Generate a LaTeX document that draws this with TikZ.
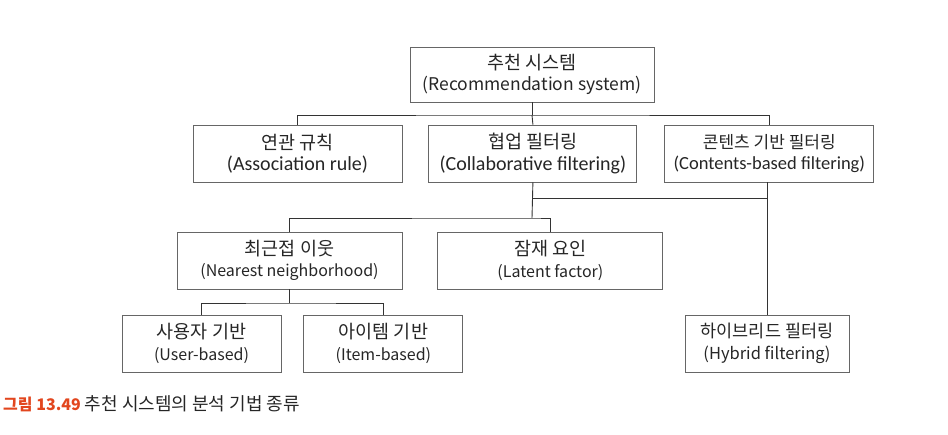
\documentclass[tikz,border=0pt]{standalone}
\usepackage{fontspec}
\setmainfont{Noto Sans CJK KR}
\newfontfamily\narrowfont{Carlito}
\usepackage{xcolor}
\usetikzlibrary{positioning,calc}

\definecolor{capred}{HTML}{E2461E}
\definecolor{inkgray}{HTML}{262626}
\newcommand{\enline}[1]{{\fontsize{16}{20}\selectfont #1}}
\newcommand{\narrowline}[1]{{\narrowfont\fontsize{20}{20}\selectfont #1}}

\begin{document}
\begin{tikzpicture}[
  x=1pt, y=1pt,
  font=\fontsize{18.5}{21.5}\selectfont,
  catbox/.style={
    draw=black!60,
    fill=white,
    line width=0.9pt,
    minimum width=#1,
    minimum height=57pt,
    align=center,
    inner sep=0pt,
    text=inkgray
  },
  catbox/.default=209pt,
  link/.style={draw=black!80, line width=0.9pt},
  caption/.style={anchor=west, inner sep=0pt, font=\fontsize{18}{20}\selectfont, text=inkgray}
]
\useasboundingbox (0,0) rectangle (948,-435);

% ===== Root =====
\node[catbox=244pt, minimum height=55pt] (root) at (532,-74.5)
  {추천 시스템\\{\fontsize{17.5}{20}\selectfont (Recommendation system)}};

% ===== Second row =====
\node[catbox=209pt] (assoc) at (297.5,-153.5)
  {연관 규칙\\\narrowline{(Association rule)}};
\node[catbox=208pt, right=26pt of assoc] (collab)
  {협업 필터링\\\narrowline{(Collaborative filtering)}};
\node[catbox=209pt, right=27pt of collab] (contents)
  {{\fontsize{17}{20}\selectfont 콘텐츠 기반 필터링}\\{\narrowfont\fontsize{18.5}{20}\selectfont (Contents-based filtering)}};

% ===== Third row =====
\node[catbox=225pt] (nearest) at (289.5,-260.5)
  {최근접 이웃\\\enline{(Nearest neighborhood)}};
\node[catbox=225pt, right=35pt of nearest] (latent)
  {잠재 요인\\\enline{(Latent factor)}};

% ===== Fourth row =====
\node[catbox=159pt] (user) at (201.5,-343.5)
  {사용자 기반\\\enline{(User-based)}};
\node[catbox=159pt, right=22pt of user] (item)
  {아이템 기반\\\enline{(Item-based)}};
\node[catbox=164pt] (hybrid) at (767,-343.5)
  {{\fontsize{17.5}{20}\selectfont 하이브리드 필터링}\\{\fontsize{16.5}{20}\selectfont (Hybrid filtering)}};

% ===== Bus points =====
\coordinate (bus1) at (532,-115);
\coordinate (bus2) at (532,-218);
\coordinate (bus3) at (532,-198);
\coordinate (bus4) at (289.5,-303);

% ===== Connectors =====
\draw[link] (root.south) -- (bus1);
\draw[link] (assoc.north) |- (bus1) -| (contents.north);
\draw[link] (collab.north) -- (bus1);

\draw[link] (collab.south) -- (bus2);
\draw[link] (nearest.north) |- (bus2) -| (latent.north);
\draw[link] (bus3) -- (bus3 -| hybrid.north);
\draw[link] (contents.south -| hybrid.north) -- (hybrid.north);

\draw[link] (nearest.south) -- (bus4);
\draw[link] (user.north) |- (bus4) -| (item.north);

% ===== Caption =====
\node[caption] (cap) at (3,-404)
  {\textcolor{capred}{\fontsize{16}{20}\selectfont\bfseries 그림 13.49} 추천 시스템의 분석 기법 종류};

\end{tikzpicture}
\end{document}
